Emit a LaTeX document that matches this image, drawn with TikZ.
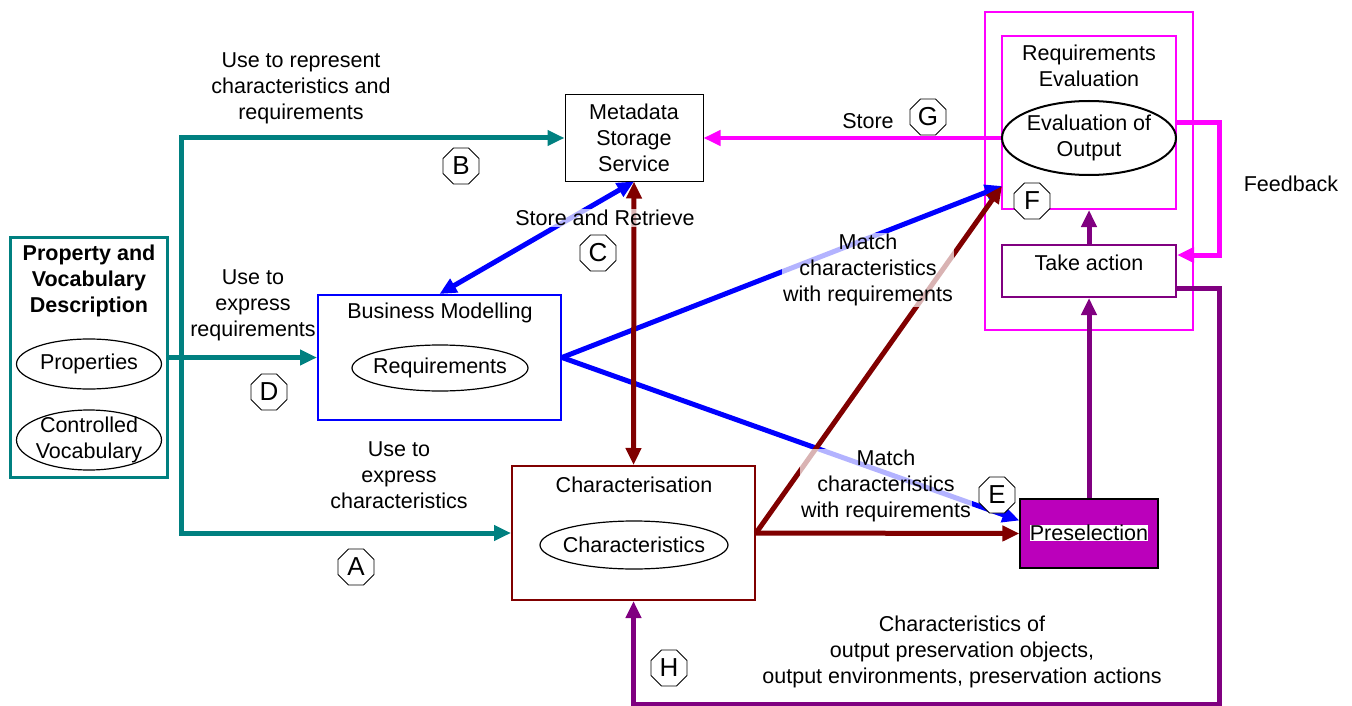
\documentclass[tikz,border=0pt]{standalone}
\usepackage{fontspec}
\setmainfont{Liberation Sans}
\usepackage{xcolor}
\usetikzlibrary{shapes,arrows.meta,positioning,calc}
\definecolor{tealc}{RGB}{0,128,128}
\definecolor{bluec}{RGB}{0,0,255}
\definecolor{redc}{RGB}{128,0,0}
\definecolor{magc}{RGB}{255,0,255}
\definecolor{purc}{RGB}{128,0,128}
\definecolor{prefill}{RGB}{187,0,187}

\begin{document}
\begin{tikzpicture}[x=1pt,y=-1pt,
        every node/.style={font=\fontsize{21.5}{26}\selectfont, align=center},
        box/.style={draw, line width=2pt, inner sep=0pt},
        oval/.style={draw, ellipse, line width=1.2pt, inner sep=0pt},
        octa/.style={draw, fill=white, regular polygon, regular polygon sides=8, minimum size=39pt, inner sep=0pt, line width=0.8pt, font=\fontsize{26}{28}\selectfont},
        lbl/.style={fill=white, fill opacity=0.7, text opacity=1, inner sep=1pt},
        arr/.style={line width=5pt, -{Triangle[length=17pt,width=15pt]}},
        darr/.style={line width=5pt, {Triangle[length=17pt,width=15pt]}-{Triangle[length=17pt,width=15pt]}}]
        \useasboundingbox (0,0) rectangle (1352,706);

        % Property and vocabulary description
        \node[box, draw=tealc, line width=3pt, minimum width=157pt, minimum height=240pt] (prop) at (89,357.5) {};
        \node[font=\bfseries\fontsize{21.5}{26}\selectfont] (proptitle) at (89,281) {Property and\\Vocabulary\\Description};
        \node[oval, minimum width=145pt, minimum height=50pt, label=center:Properties] (props) at (89,364) {};
        \node[oval, minimum width=145pt, minimum height=60pt, label={center:Controlled\\Vocabulary}] (vocab) at (89,440) {};

        % Metadata storage
        \node[box, line width=1pt, minimum width=138pt, minimum height=86pt] (meta) at (634,138) {Metadata\\Storage\\Service};

        % Business modelling
        \node[box, draw=bluec, minimum width=243pt, minimum height=125pt] (bm) at (439.5,357.5) {};
        \node (bmtitle) at (440,313) {Business Modelling};
        \node[oval, minimum width=176pt, minimum height=46pt, label=center:Requirements] (req) at (440,368) {};

        % Characterisation
        \node[box, draw=redc, minimum width=243pt, minimum height=134pt] (char) at (633.5,533) {};
        \node (chartitle) at (634,485) {Characterisation};
        \node[oval, minimum width=188pt, minimum height=48pt, label=center:Characteristics] (chars) at (634,545) {};

        % Preselection
        \node[box, line width=1.2pt, fill=prefill, minimum width=138pt, minimum height=69pt] (pre) at (1089,533.5) {};
        \node[fill=white, inner sep=0pt] (pretext) at (1089,533) {Preselection};

        % Requirements evaluation and action
        \node[box, draw=magc, minimum width=208pt, minimum height=318pt] (outer) at (1089,171) {};
        \node[box, draw=magc, minimum width=174pt, minimum height=173pt] (reqev) at (1089,122.5) {};
        \node (reqevtitle) at (1089,66) {Requirements\\Evaluation};
        \node[oval, line width=2pt, fill=white, minimum width=174pt, minimum height=74pt, label={center:Evaluation of\\Output}] (evo) at (1089,138) {};
        \node[box, draw=purc, minimum width=174pt, minimum height=52pt] (take) at (1089,271) {};
        \node (taketext) at (1089,263) {Take action};

        % Teal arrows
        \coordinate (split) at (181,357.5);
        \draw[arr, tealc] (prop.east) -- (bm.west);
        \draw[arr, tealc] (split) |- (meta.west);
        \draw[arr, tealc] (split) |- (char.west);

        % Blue arrows
        \coordinate (fpt) at (1002,186);
        \draw[darr, bluec] (bm.north) -- (meta.south);
        \draw[arr, bluec] (bm.east) -- (fpt);
        \draw[arr, bluec] (bm.east) -- ($(pre.west)+(0,-13)$);

        % Dark red arrows
        \draw[darr, redc] (char.north) -- (meta.south);
        \draw[arr, redc] (char.east) -- (pre.west);
        \draw[arr, redc] (char.east) -- (fpt);

        % Magenta arrows
        \coordinate (fbout) at (1176,123);
        \draw[arr, magc, line width=4pt] (evo.west) -- (meta.east);
        \draw[arr, magc] (fbout) -- (1219,123) -- (1219,255) -- ($(take.east)+(0,-16)$);

        % Purple arrows
        \draw[arr, purc] (pre.north) -- (take.south);
        \draw[arr, purc] (take.north) -- (reqev.south);
        \draw[arr, purc] ($(take.east)+(0,17)$) -- (1219,288) -- (1219,704) -| (char.south);

        % Labels
        \node[lbl] (lblB) at (301,88) {Use to represent\\characteristics and\\requirements};
        \node[octa] (octB) at (461,166) {B};
        \node[lbl] (lblC) at (605,218) {Store and Retrieve};
        \node[octa] (octC) at (598,253) {C};
        \node[lbl] (lblD) at (253,305) {Use to\\express\\requirements};
        \node[octa] (octD) at (269,392) {D};
        \node[lbl] (lblA) at (399,475) {Use to\\express\\characteristics};
        \node[octa] (octA) at (356,567) {A};
        \node[lbl] (lblmatchF) at (868,270) {Match\\characteristics\\with requirements};
        \node[lbl] (lblmatchE) at (886,486) {Match\\characteristics\\with requirements};
        \node[octa] (octE) at (997,495) {E};
        \node[octa] (octF) at (1032,201) {F};
        \node (lblstore) at (868,121) {Store};
        \node[octa] (octG) at (928,117) {G};
        \node (lblfeed) at (1291,184) {Feedback};
        \node[octa] (octH) at (669,668) {H};
        \node (lblout) at (962,652) {Characteristics of\\output preservation objects,\\output environments, preservation actions};
    \end{tikzpicture}
\end{document}
